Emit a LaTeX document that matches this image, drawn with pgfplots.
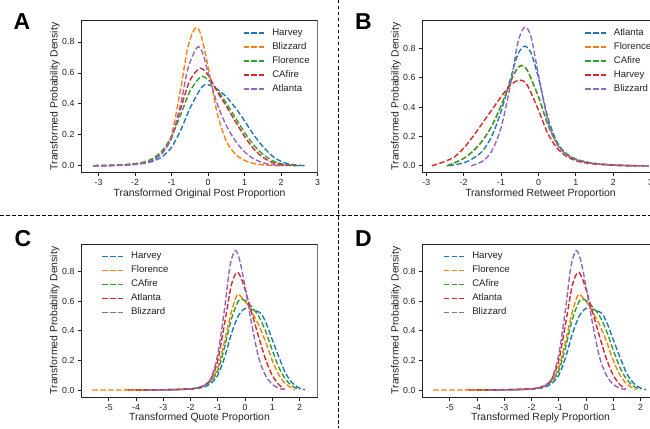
\documentclass[border=0pt]{standalone}
\usepackage{fontspec}
\setmainfont{Liberation Sans}
\usepackage{pgfplots}
\pgfplotsset{compat=1.18}
\definecolor{tblue}{HTML}{1F77B4}
\definecolor{torange}{HTML}{FF7F0E}
\definecolor{tgreen}{HTML}{2CA02C}
\definecolor{tred}{HTML}{D62728}
\definecolor{tpurple}{HTML}{9467BD}
\definecolor{txt}{HTML}{222222}
\definecolor{spinegray}{HTML}{707070}
\pgfplotsset{
  panel/.style={
    scale only axis,
    width=236pt,
    axis line style={txt, line width=0.9pt},
    tick pos=left, tick align=outside,
    major tick length=3.5pt,
    every tick/.style={txt, line width=0.8pt},
    /pgf/number format/assume math mode=true,
    ticklabel style={font=\fontsize{8.8}{10}\selectfont, text=txt},
    yticklabel style={/pgf/number format/.cd, fixed, fixed zerofill, precision=1},
    ytick={0,0.2,0.4,0.6,0.8},
    xlabel style={font=\fontsize{10.4}{12}\selectfont, text=txt, anchor=center},
    ylabel style={font=\fontsize{10.4}{12}\selectfont, text=txt, anchor=center},
    no markers,
    every axis plot/.append style={line width=1.4pt, dash pattern=on 5.5pt off 2.4pt, smooth},
    legend cell align=left,
    legend image code/.code={\draw[##1] (0pt,0pt) -- (20.6pt,0pt);},
    legend style={draw=none, fill=none, inner sep=0pt, anchor=north west,
      row sep=5pt, font=\fontsize{9.6}{11}\selectfont, text=txt,
      nodes={inner sep=0pt, text height=7pt, text depth=2pt},
      /tikz/every odd column/.append style={column sep=7.4pt}},
    after end axis/.code={\draw[spinegray, line width=1.6pt] (rel axis cs:1,0) -- (rel axis cs:1,1);},
  }
}
\begin{document}
\begin{tikzpicture}
\path[use as bounding box] (0pt,0pt) rectangle (650pt,-428pt);
% separators
\draw[black, line width=1pt, dash pattern=on 3.5pt off 2.5pt] (338.3pt,0pt) -- (338.3pt,-428pt);
\draw[black, line width=1pt, dash pattern=on 3.5pt off 2.5pt] (0pt,-215.7pt) -- (650pt,-215.7pt);
% panel letters
\node[anchor=base west, inner sep=0pt, font=\fontsize{23}{26}\selectfont\bfseries] at (13.3pt,-29.3pt) {A};
\node[anchor=base west, inner sep=0pt, font=\fontsize{23}{26}\selectfont\bfseries] at (355pt,-29.3pt) {B};
\node[anchor=base west, inner sep=0pt, font=\fontsize{23}{26}\selectfont\bfseries] at (14.5pt,-246.4pt) {C};
\node[anchor=base west, inner sep=0pt, font=\fontsize{23}{26}\selectfont\bfseries] at (355pt,-246.4pt) {D};

% ---------------- A
\begin{axis}[panel, at={(81.5pt,-172.7pt)}, anchor=south west, height=152.4pt,
  xmin=-3.47, xmax=3.0, ymin=-0.045, ymax=0.94, xtick={-3,-2,-1,0,1,2,3},
  xlabel={Transformed Original Post Proportion}, ylabel={Transformed Probability Density},
  xlabel style={at={(axis description cs:0.5,-0.1417)}},
  ylabel style={at={(axis description cs:-0.1123,0.5)}},
  legend style={at={(axis description cs:0.683,0.9475)}}]
\addplot[tblue] coordinates {(-3.15,0) (-2.5,0.002) (-2,0.008) (-1.75,0.016) (-1.5,0.03) (-1.25,0.06) (-1,0.12) (-0.75,0.23) (-0.5,0.37) (-0.25,0.48) (-0.1,0.523) (0.05,0.52) (0.25,0.495) (0.5,0.445) (0.75,0.375) (1,0.29) (1.25,0.2) (1.5,0.125) (1.75,0.065) (2,0.028) (2.25,0.01) (2.5,0.003) (2.7,0)};
\addlegendentry{Harvey}
\addplot[torange] coordinates {(-3.15,0) (-2.5,0.003) (-2,0.01) (-1.75,0.02) (-1.5,0.04) (-1.25,0.085) (-1,0.2) (-0.75,0.5) (-0.55,0.77) (-0.35,0.89) (-0.2,0.85) (0,0.64) (0.25,0.34) (0.5,0.16) (0.75,0.075) (1,0.035) (1.25,0.015) (1.5,0.006) (1.75,0.002) (2,0)};
\addlegendentry{Blizzard}
\addplot[tgreen] coordinates {(-3.15,0) (-2.5,0.004) (-2,0.014) (-1.75,0.025) (-1.5,0.05) (-1.25,0.1) (-1,0.19) (-0.75,0.33) (-0.5,0.48) (-0.2,0.575) (0,0.555) (0.25,0.49) (0.5,0.405) (0.75,0.31) (1,0.215) (1.25,0.135) (1.5,0.075) (1.75,0.035) (2,0.013) (2.25,0.004) (2.5,0)};
\addlegendentry{Florence}
\addplot[tred] coordinates {(-3.15,0) (-2.5,0.003) (-2,0.011) (-1.75,0.02) (-1.5,0.04) (-1.25,0.085) (-1,0.18) (-0.75,0.37) (-0.5,0.55) (-0.22,0.63) (0,0.585) (0.25,0.48) (0.5,0.385) (0.75,0.285) (1,0.19) (1.25,0.11) (1.5,0.055) (1.75,0.022) (2,0.008) (2.25,0.002) (2.4,0)};
\addlegendentry{CAfire}
\addplot[tpurple] coordinates {(-3.15,0) (-2.5,0.003) (-2,0.01) (-1.75,0.02) (-1.5,0.04) (-1.25,0.085) (-1,0.18) (-0.75,0.4) (-0.55,0.63) (-0.3,0.765) (-0.15,0.73) (0,0.6) (0.25,0.4) (0.5,0.26) (0.75,0.16) (1,0.09) (1.25,0.045) (1.5,0.02) (1.75,0.007) (2,0.002) (2.2,0)};
\addlegendentry{Atlanta}
\end{axis}

% ---------------- B
\begin{axis}[panel, at={(422.5pt,-172.7pt)}, anchor=south west, height=152.4pt,
  xmin=-3.1, xmax=3.21, ymin=-0.047, ymax=0.992, xtick={-3,-2,-1,0,1,2,3},
  xlabel={Transformed Retweet Proportion}, ylabel={Transformed Probability Density},
  xlabel style={at={(axis description cs:0.5,-0.1417)}},
  ylabel style={at={(axis description cs:-0.1123,0.5)}},
  legend style={at={(axis description cs:0.6856,0.9475)}}]
\addplot[tblue] coordinates {(-2.4,0) (-2,0.02) (-1.75,0.05) (-1.5,0.1) (-1.25,0.2) (-1,0.37) (-0.75,0.59) (-0.55,0.76) (-0.37,0.815) (-0.2,0.77) (0,0.6) (0.25,0.33) (0.5,0.16) (0.75,0.082) (1,0.045) (1.25,0.027) (1.5,0.016) (2,0.005) (2.5,0.001) (2.95,0)};
\addlegendentry{Atlanta}
\addplot[torange] coordinates {(-2.45,0) (-2.25,0.02) (-2,0.05) (-1.75,0.1) (-1.5,0.17) (-1.25,0.27) (-1,0.41) (-0.75,0.57) (-0.6,0.65) (-0.46,0.684) (-0.3,0.65) (0,0.47) (0.25,0.28) (0.5,0.15) (0.75,0.08) (1,0.045) (1.25,0.027) (1.5,0.016) (2,0.005) (2.5,0.001) (2.95,0)};
\addlegendentry{Florence}
\addplot[tgreen] coordinates {(-2.45,0) (-2.25,0.02) (-2,0.05) (-1.75,0.1) (-1.5,0.17) (-1.25,0.27) (-1,0.41) (-0.75,0.57) (-0.6,0.65) (-0.46,0.685) (-0.3,0.652) (0,0.472) (0.25,0.282) (0.5,0.152) (0.75,0.081) (1,0.046) (1.25,0.027) (1.5,0.016) (2,0.005) (2.5,0.001) (2.95,0)};
\addlegendentry{CAfire}
\addplot[tred] coordinates {(-2.85,0) (-2.5,0.03) (-2.25,0.06) (-2,0.12) (-1.75,0.2) (-1.5,0.29) (-1.25,0.38) (-1,0.47) (-0.75,0.55) (-0.5,0.585) (-0.3,0.55) (0,0.38) (0.25,0.22) (0.5,0.12) (0.75,0.065) (1,0.035) (1.25,0.02) (1.5,0.012) (2,0.004) (2.5,0.001) (2.95,0)};
\addlegendentry{Harvey}
\addplot[tpurple] coordinates {(-1.8,0) (-1.5,0.03) (-1.25,0.1) (-1,0.26) (-0.75,0.55) (-0.55,0.84) (-0.37,0.945) (-0.2,0.88) (0,0.62) (0.25,0.31) (0.5,0.145) (0.75,0.075) (1,0.042) (1.25,0.025) (1.5,0.015) (2,0.005) (2.5,0.001) (2.95,0)};
\addlegendentry{Blizzard}
\end{axis}

% ---------------- C
\begin{axis}[panel, at={(81.5pt,-397pt)}, anchor=south west, height=153pt,
  xmin=-6.0, xmax=2.66, ymin=-0.047, ymax=0.987, xtick={-5,-4,-3,-2,-1,0,1,2},
  xlabel={Transformed Quote Proportion}, ylabel={Transformed Probability Density},
  xlabel style={at={(axis description cs:0.5,-0.1375)}},
  ylabel style={at={(axis description cs:-0.1131,0.5)}},
  legend style={at={(axis description cs:0.0847,0.95)}}]
\addplot[tblue] coordinates {(-3.8,0) (-3,0.002) (-2.5,0.003) (-2,0.006) (-1.75,0.011) (-1.5,0.02) (-1.25,0.045) (-1,0.1) (-0.75,0.22) (-0.5,0.38) (-0.25,0.5) (0,0.552) (0.2,0.548) (0.4,0.535) (0.6,0.515) (0.8,0.44) (1,0.34) (1.25,0.22) (1.5,0.11) (1.75,0.045) (2,0.013) (2.2,0.003)};
\addlegendentry{Harvey}
\addplot[torange] coordinates {(-5.6,0) (-4,0.001) (-3,0.002) (-2.5,0.004) (-2,0.008) (-1.75,0.015) (-1.5,0.03) (-1.25,0.065) (-1,0.15) (-0.75,0.33) (-0.5,0.53) (-0.28,0.645) (-0.1,0.62) (0.1,0.575) (0.3,0.51) (0.5,0.44) (0.75,0.33) (1,0.2) (1.25,0.1) (1.5,0.04) (1.75,0.01) (1.85,0.003)};
\addlegendentry{Florence}
\addplot[tgreen] coordinates {(-4,0) (-3,0.002) (-2.5,0.004) (-2,0.008) (-1.75,0.015) (-1.5,0.03) (-1.25,0.06) (-1,0.13) (-0.75,0.29) (-0.5,0.48) (-0.25,0.6) (-0.12,0.613) (0.05,0.6) (0.25,0.56) (0.5,0.5) (0.75,0.4) (1,0.27) (1.25,0.15) (1.5,0.07) (1.75,0.025) (2,0.006)};
\addlegendentry{CAfire}
\addplot[tred] coordinates {(-4.3,0) (-3,0.002) (-2.5,0.004) (-2,0.008) (-1.75,0.015) (-1.5,0.03) (-1.25,0.075) (-1,0.2) (-0.75,0.45) (-0.5,0.71) (-0.3,0.795) (-0.15,0.76) (0,0.68) (0.25,0.52) (0.5,0.36) (0.75,0.21) (1,0.1) (1.25,0.035) (1.45,0.008)};
\addlegendentry{Atlanta}
\addplot[tpurple] coordinates {(-3.6,0) (-2.5,0.003) (-2,0.008) (-1.75,0.015) (-1.5,0.03) (-1.25,0.08) (-1,0.24) (-0.75,0.55) (-0.55,0.84) (-0.36,0.942) (-0.2,0.88) (0,0.7) (0.25,0.44) (0.5,0.22) (0.75,0.1) (1,0.038) (1.25,0.012) (1.45,0.003)};
\addlegendentry{Blizzard}
\end{axis}

% ---------------- D
\begin{axis}[panel, at={(422.5pt,-397pt)}, anchor=south west, height=153pt,
  xmin=-6.0, xmax=2.66, ymin=-0.047, ymax=0.987, xtick={-5,-4,-3,-2,-1,0,1,2},
  xlabel={Transformed Reply Proportion}, ylabel={Transformed Probability Density},
  xlabel style={at={(axis description cs:0.5,-0.1375)}},
  ylabel style={at={(axis description cs:-0.1131,0.5)}},
  legend style={at={(axis description cs:0.0856,0.95)}}]
\addplot[tblue] coordinates {(-3.8,0) (-3,0.002) (-2.5,0.003) (-2,0.006) (-1.75,0.011) (-1.5,0.02) (-1.25,0.045) (-1,0.1) (-0.75,0.22) (-0.5,0.38) (-0.25,0.5) (0,0.552) (0.2,0.548) (0.4,0.535) (0.6,0.515) (0.8,0.44) (1,0.34) (1.25,0.22) (1.5,0.11) (1.75,0.045) (2,0.013) (2.2,0.003)};
\addlegendentry{Harvey}
\addplot[torange] coordinates {(-5.6,0) (-4,0.001) (-3,0.002) (-2.5,0.004) (-2,0.008) (-1.75,0.015) (-1.5,0.03) (-1.25,0.065) (-1,0.15) (-0.75,0.33) (-0.5,0.53) (-0.28,0.645) (-0.1,0.62) (0.1,0.575) (0.3,0.51) (0.5,0.44) (0.75,0.33) (1,0.2) (1.25,0.1) (1.5,0.04) (1.75,0.01) (1.85,0.003)};
\addlegendentry{Florence}
\addplot[tgreen] coordinates {(-4,0) (-3,0.002) (-2.5,0.004) (-2,0.008) (-1.75,0.015) (-1.5,0.03) (-1.25,0.06) (-1,0.13) (-0.75,0.29) (-0.5,0.48) (-0.25,0.6) (-0.12,0.613) (0.05,0.6) (0.25,0.56) (0.5,0.5) (0.75,0.4) (1,0.27) (1.25,0.15) (1.5,0.07) (1.75,0.025) (2,0.006)};
\addlegendentry{CAfire}
\addplot[tred] coordinates {(-4.3,0) (-3,0.002) (-2.5,0.004) (-2,0.008) (-1.75,0.015) (-1.5,0.03) (-1.25,0.075) (-1,0.2) (-0.75,0.45) (-0.5,0.71) (-0.3,0.795) (-0.15,0.76) (0,0.68) (0.25,0.52) (0.5,0.36) (0.75,0.21) (1,0.1) (1.25,0.035) (1.45,0.008)};
\addlegendentry{Atlanta}
\addplot[tpurple] coordinates {(-3.6,0) (-2.5,0.003) (-2,0.008) (-1.75,0.015) (-1.5,0.03) (-1.25,0.08) (-1,0.24) (-0.75,0.55) (-0.55,0.84) (-0.36,0.942) (-0.2,0.88) (0,0.7) (0.25,0.44) (0.5,0.22) (0.75,0.1) (1,0.038) (1.25,0.012) (1.45,0.003)};
\addlegendentry{Blizzard}
\end{axis}
\end{tikzpicture}
\end{document}
